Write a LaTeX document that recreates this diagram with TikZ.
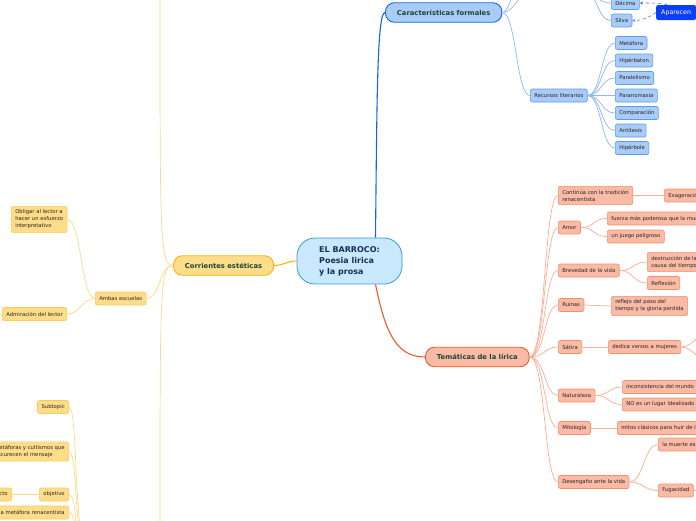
\documentclass[tikz,border=0pt]{standalone}
\usepackage{fontspec}
\setmainfont{DejaVu Sans}
\usetikzlibrary{arrows.meta}

\definecolor{bluemain}{HTML}{1565D8}
\definecolor{bluefill}{HTML}{A8CBF8}
\definecolor{blueedge}{HTML}{5B9BEF}
\definecolor{bluelink}{HTML}{8DB8F2}
\definecolor{salmain}{HTML}{F05A28}
\definecolor{salfill}{HTML}{F9BBA6}
\definecolor{saledge}{HTML}{F58E6E}
\definecolor{sallink}{HTML}{F9AD93}
\definecolor{yelmain}{HTML}{F5B50A}
\definecolor{yelfill}{HTML}{FEDD8A}
\definecolor{yeledge}{HTML}{FBCB55}
\definecolor{yellink}{HTML}{FCD98A}
\definecolor{rootfill}{HTML}{C7E9FB}
\definecolor{rootedge}{HTML}{3B9AD9}
\definecolor{roottext}{HTML}{1B2A56}
\definecolor{topictext}{HTML}{1D4535}
\definecolor{subtext}{HTML}{2A2222}
\definecolor{apfill}{HTML}{0B3FF5}
\definecolor{aplink}{HTML}{3A6CF0}

\begin{document}
\begin{tikzpicture}[x=1pt, y=-1pt,
  sub/.style={draw, rounded corners=2pt, line width=0.6pt, text=subtext,
    font=\fontsize{5.3}{7}\selectfont, inner xsep=4pt, inner ysep=3.5pt,
    minimum height=13pt, align=left},
  bsub/.style={sub, fill=bluefill, draw=blueedge},
  ssub/.style={sub, fill=salfill, draw=saledge},
  ysub/.style={sub, fill=yelfill, draw=yeledge},
  topic/.style={draw, rounded corners=9pt, line width=0.9pt, text=topictext,
    font=\fontsize{6.8}{8}\selectfont\bfseries, inner xsep=11.5pt,
    minimum height=19.5pt, anchor=west},
  blink/.style={draw=bluelink, line width=0.7pt},
  slink/.style={draw=sallink, line width=0.7pt},
  ylink/.style={draw=yellink, line width=0.7pt},
  aplinkstyle/.style={draw=aplink, line width=0.6pt, dashed, -{Stealth[open, length=3pt, width=3pt]}}]
\useasboundingbox (0,0) rectangle (696,520);
\fill[white] (0,0) rectangle (696,520);
\clip (0,0) rectangle (696,520);

\node[draw=rootedge, fill=rootfill, line width=0.8pt, rounded corners=18pt, text=roottext,
  font=\fontsize{8}{11}\selectfont\bfseries, align=left, minimum width=105pt,
  minimum height=46pt] (root) at (349.5,261) {EL BARROCO:\\Poesia lirica\\y la prosa};

\node[topic, fill=bluefill, draw=bluemain] (car) at (385,12.5) {Características formales};
\node[topic, fill=salfill, draw=salmain] (tem) at (425,357) {Temáticas de la lírica};
\node[topic, fill=yelfill, draw=yelmain] (cor) at (173,265.5) {Corrientes estéticas};

\node[bsub, anchor=west, minimum width=54pt] (metr) at (530,-7) {};
\node[bsub, anchor=west] (dec) at (611,3) {Décima};
\node[bsub, anchor=west] (sil) at (611,20.5) {Silva};
\node[fill=apfill, text=white, rounded corners=2pt, font=\fontsize{6.3}{7}\selectfont,
  inner xsep=5pt, minimum height=15pt, anchor=west] (apa) at (656,12.5) {Aparecen};
\coordinate (carup) at (528,-40);
\node[bsub, anchor=west] (rec) at (530,95.5) {Recursos literarios};
\node[bsub, anchor=west] (rmet) at (615,43) {Metáfora};
\node[bsub, anchor=west] (rhip) at (615,60.5) {Hipérbaton};
\node[bsub, anchor=west] (rpar) at (615,78) {Paralelismo};
\node[bsub, anchor=west] (rpan) at (615,95.5) {Paranomasia};
\node[bsub, anchor=west] (rcom) at (615,113) {Comparación};
\node[bsub, anchor=west] (rant) at (615,130.5) {Antítesis};
\node[bsub, anchor=west] (rhpb) at (615,148) {Hipérbole};

\node[ssub, anchor=west] (tcon) at (558,195.5) {Continúa con la tradición\\renacentista};
\node[ssub, anchor=west] (texa) at (664,195.5) {Exageración};
\node[ssub, anchor=west] (tamo) at (558,227.5) {Amor};
\node[ssub, anchor=west] (tfue) at (607,218.5) {fuerza más poderosa que la muerte};
\node[ssub, anchor=west] (tjue) at (607,236.5) {un juego peligroso};
\node[ssub, anchor=west] (tbre) at (558,270.5) {Brevedad de la vida};
\node[ssub, anchor=west] (tdst) at (647,262) {destrucción de la belleza a\\causa del tiempo};
\node[ssub, anchor=west] (tref) at (647,283) {Reflexión};
\node[ssub, anchor=west] (trui) at (558,305) {Ruinas};
\node[ssub, anchor=west] (trfl) at (611,306) {reflejo del paso del\\tiempo y la gloria perdida};
\node[ssub, anchor=west] (tsat) at (558,347) {Sátira};
\node[ssub, anchor=west] (tded) at (608,347) {dedica versos a mujeres};
\coordinate (dedup) at (716,326);
\coordinate (deddn) at (716,368);
\node[ssub, anchor=west] (tnat) at (558,395.5) {Naturaleza};
\node[ssub, anchor=west] (tinc) at (622,387) {inconsistencia del mundo};
\node[ssub, anchor=west] (tnoe) at (622,404.5) {NO es un lugar idealizado};
\node[ssub, anchor=west] (tmit) at (558,428) {Mitología};
\node[ssub, anchor=west] (tmtc) at (617,428) {mitos clásicos para huir de la realidad};
\node[ssub, anchor=west] (tdes) at (558,482) {Desengaño ante la vida};
\node[ssub, anchor=west] (tmue) at (658,444.5) {la muerte es inevitable};
\node[ssub, anchor=west] (tfug) at (658,490.5) {Fugacidad};
\coordinate (fugout) at (716,490.5);

\node[ysub, anchor=west] (amb) at (95,298.5) {Ambas escuelas};
\node[ysub, anchor=west] (obl) at (11,219.5) {Obligar al lector a\\hacer un esfuerzo\\interpretativo};
\node[ysub, anchor=west] (adm) at (2,314) {Admiración del lector};
\coordinate (admout) at (-15,314);
\coordinate (corup) at (160,-5);
\coordinate (cordn) at (160,525);
\node[ysub, anchor=east] (stp) at (69,407) {Subtopic};
\node[ysub, anchor=east] (cul) at (69,451.5) {Metáforas y cultismos que\\oscurecen el mensaje};
\node[ysub, anchor=east] (obj) at (69,494.5) {objetivo};
\node[ysub, anchor=east] (imp) at (12,494.5) {Causar impacto};
\node[ysub, anchor=east] (cmp) at (69,512.5) {Complica la metáfora renacentista};
\coordinate (botpar) at (92,560);

\draw[bluemain, line width=1.1pt] (root.42) .. controls (377,100) and (377,12.5) .. (car.west);
\draw[salmain, line width=1.1pt] (root.-42) .. controls (385,330) and (395,357) .. (tem.west);
\draw[yelmain, line width=1.1pt] (root.west) .. controls +(-10,0) and +(10,0) .. (cor.east);

\draw[blink] (car.east) .. controls +(14,0) and +(-14,0) .. (rec.west);
\draw[blink] (car.east) .. controls +(12,0) and +(-12,0) .. (metr.west);
\draw[blink] (car.east) .. controls +(10,0) and +(-10,0) .. (carup);
\foreach \n in {dec,sil}
  \draw[blink] (metr.east) .. controls +(14,0) and +(-14,0) .. (\n.west);
\foreach \n in {rmet,rhip,rpar,rpan,rcom,rant,rhpb}
  \draw[blink] (rec.east) .. controls +(14,0) and +(-14,0) .. (\n.west);
\draw[aplinkstyle] ([xshift=11pt]apa.north west) .. controls (662,3) and (652,3) .. (dec.east);
\draw[aplinkstyle] (apa.west) .. controls (648,18) and (642,20.5) .. (sil.east);

\foreach \n in {tcon,tamo,tbre,trui,tsat,tnat,tmit,tdes}
  \draw[slink] (tem.east) .. controls +(16,0) and +(-14,0) .. (\n.west);
\draw[slink] (tcon.east) -- (texa.west);
\foreach \n in {tfue,tjue}
  \draw[slink] (tamo.east) .. controls +(14,0) and +(-14,0) .. (\n.west);
\foreach \n in {tdst,tref}
  \draw[slink] (tbre.east) .. controls +(14,0) and +(-14,0) .. (\n.west);
\draw[slink] (trui.east) -- (trfl.west);
\draw[slink] (tsat.east) -- (tded.west);
\foreach \n in {dedup,deddn}
  \draw[slink] (tded.east) .. controls +(14,0) and +(-14,0) .. (\n);
\foreach \n in {tinc,tnoe}
  \draw[slink] (tnat.east) .. controls +(14,0) and +(-14,0) .. (\n.west);
\draw[slink] (tmit.east) -- (tmtc.west);
\foreach \n in {tmue,tfug}
  \draw[slink] (tdes.east) .. controls +(14,0) and +(-14,0) .. (\n.west);
\draw[slink] (tfug.east) -- (fugout);

\draw[ylink] (cor.west) .. controls (160,265.5) and (160,240) .. (corup);
\draw[ylink] (cor.west) .. controls (160,265.5) and (160,290) .. (cordn);
\draw[ylink] (cor.west) .. controls +(-14,0) and +(14,0) .. (amb.east);
\foreach \n in {obl,adm}
  \draw[ylink] (amb.west) .. controls +(-14,0) and +(14,0) .. (\n.east);
\draw[ylink] (adm.west) -- (admout);
\foreach \n in {stp,cul,obj,cmp}
  \draw[ylink] (\n.east) .. controls +(10,0) and (72,560) .. (botpar);
\draw[ylink] (obj.west) -- (imp.east);
\end{tikzpicture}
\end{document}
